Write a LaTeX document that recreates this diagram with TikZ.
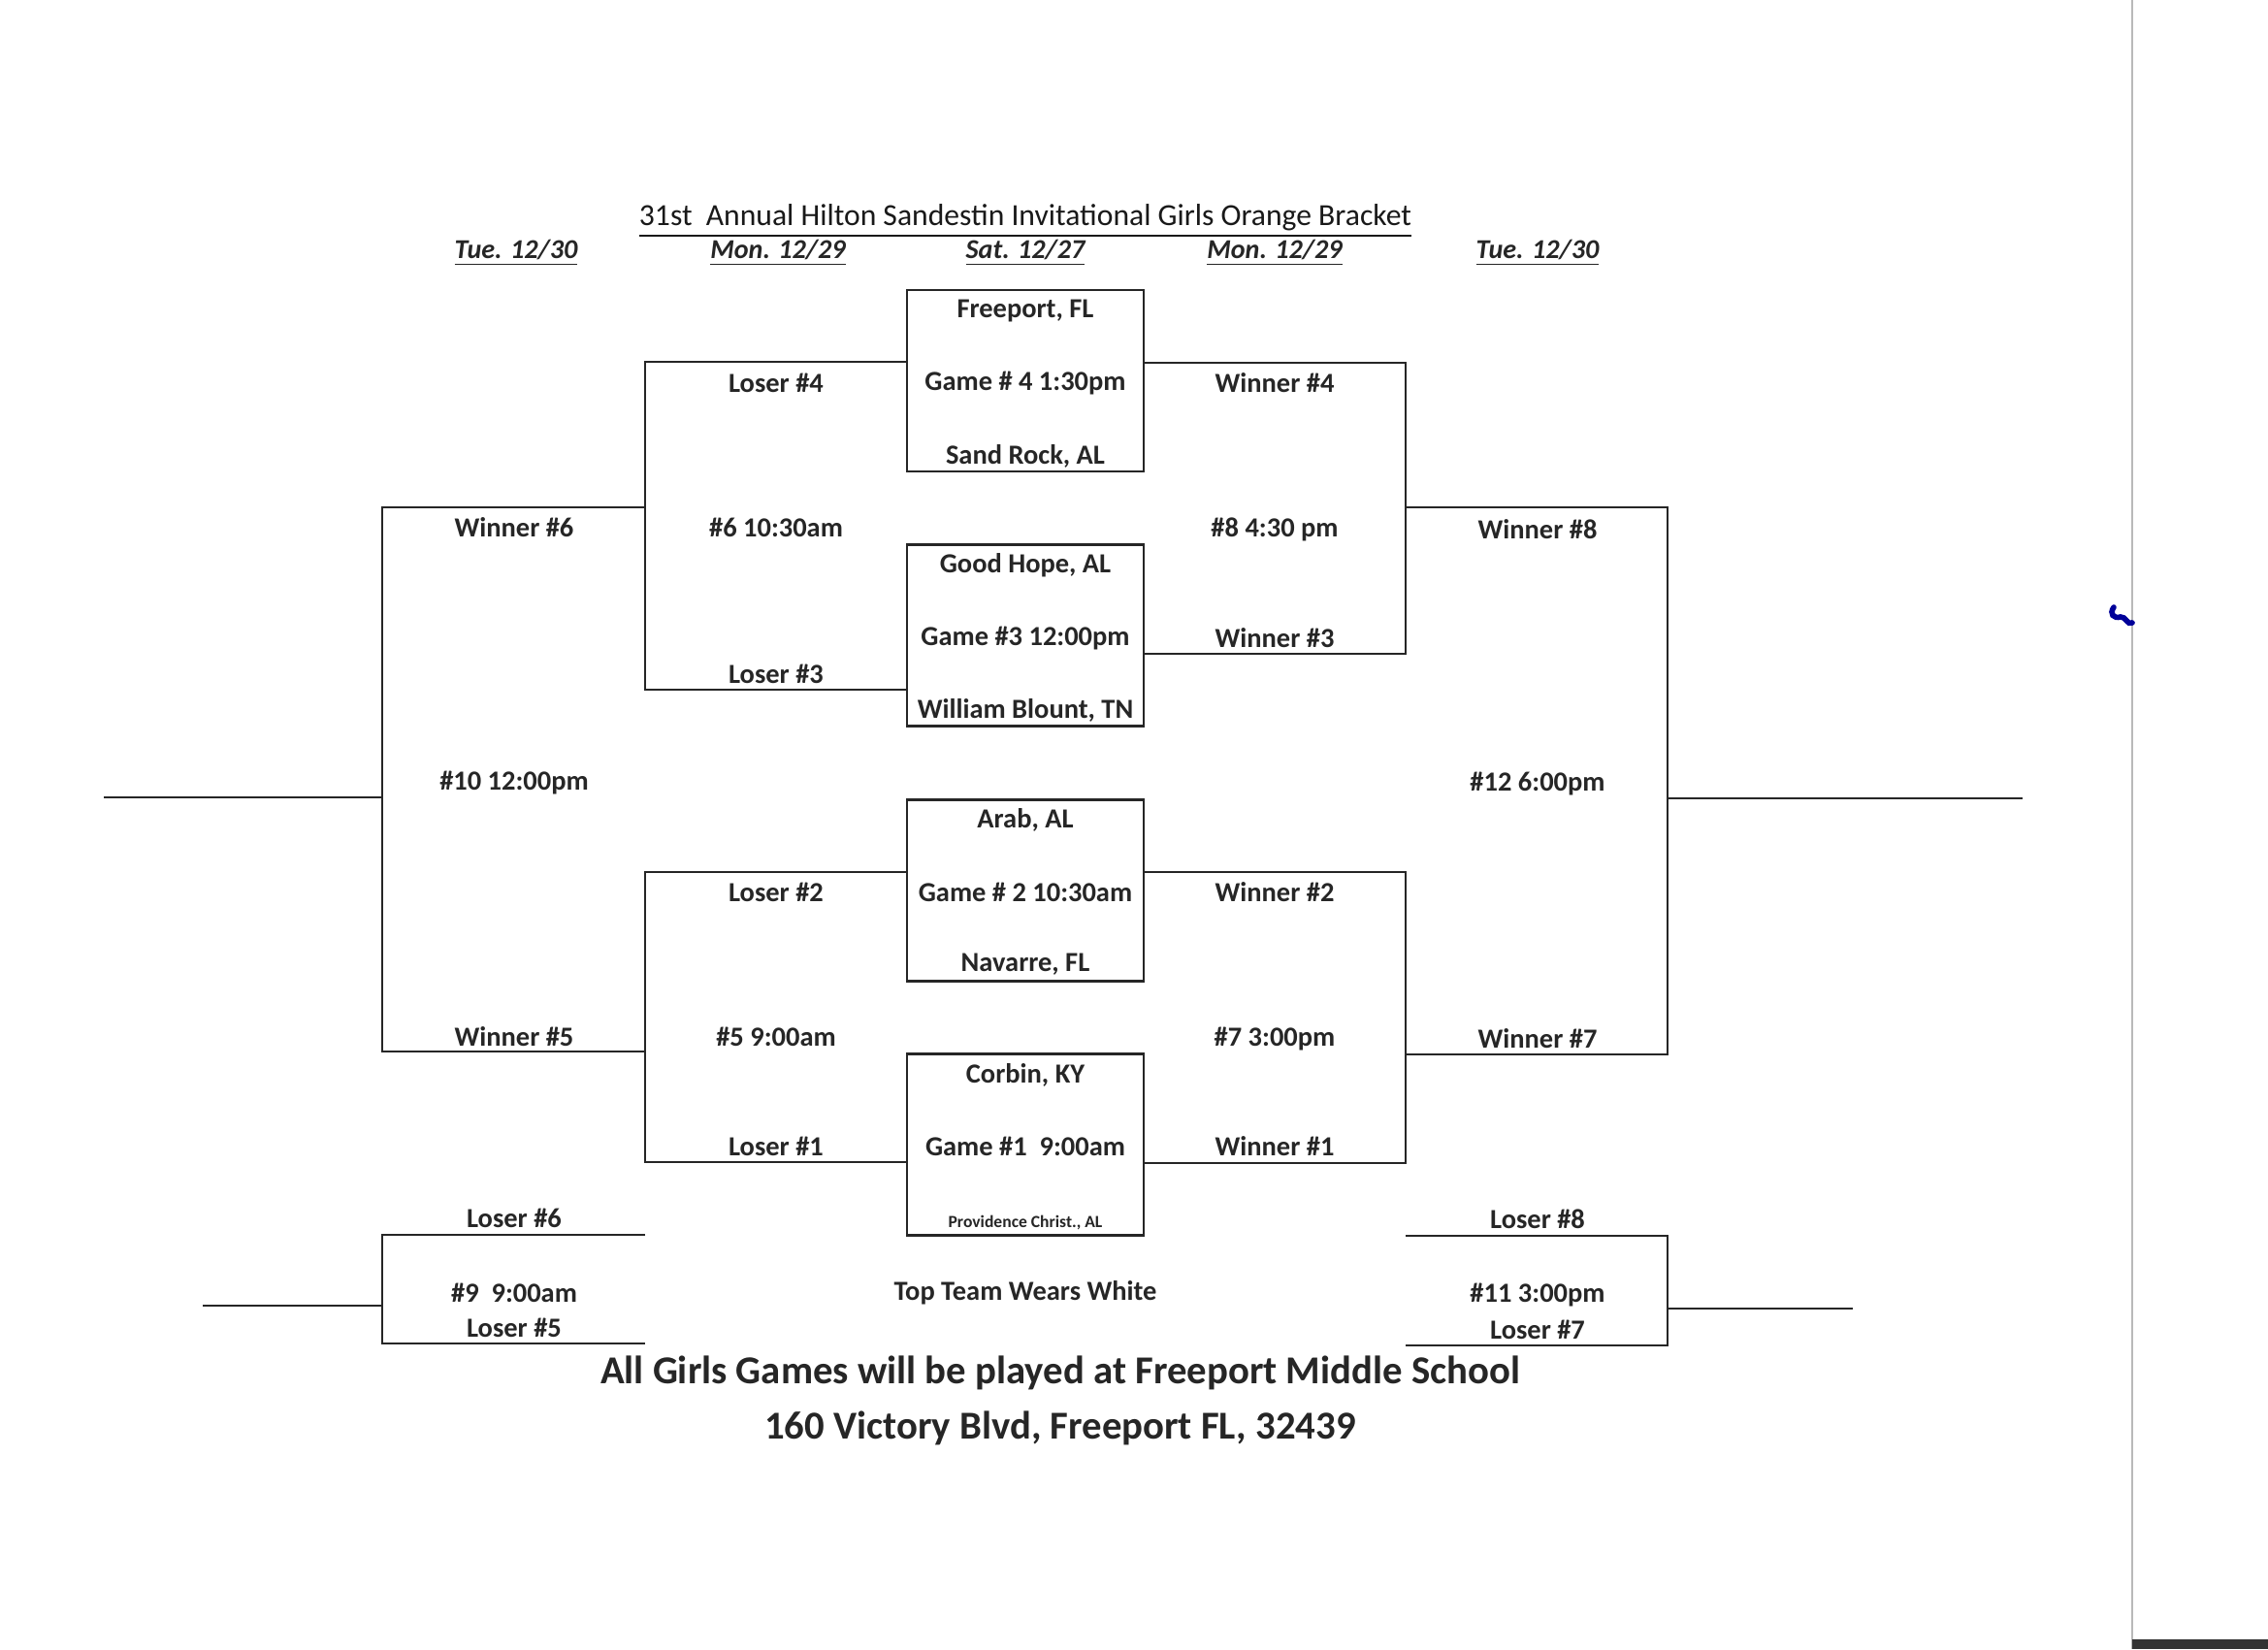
\documentclass[tikz,border=0pt]{standalone}
\usepackage{fontspec}
\setmainfont{Carlito}
\usepackage{tikz}
\usetikzlibrary{positioning,calc}

\begin{document}
\begin{tikzpicture}[
    wire/.style={draw=black!85, line width=0.6pt},
    game/.style={draw=black!85, line width=0.6pt, minimum width=2.44cm, minimum height=1.87cm, inner sep=0pt},
    lbl/.style={font=\fontsize{8.1}{10}\selectfont\bfseries, text=black!85, inner sep=0pt},
    day/.style={font=\fontsize{8}{10}\selectfont\bfseries\itshape, text=black!85, inner sep=0pt},
    foot/.style={font=\fontsize{11.6}{14}\selectfont\bfseries, text=black!85, inner sep=0pt}]

    \path[use as bounding box, fill=white] (0,0) rectangle (23.38,-17);

    % --- HEADER ---
    \node[font=\fontsize{9}{11}\selectfont, text=black!90, inner sep=0pt] (title) at (10.57,-2.28)
        {\underline{31st\ \ Annual Hilton Sandestin Invitational Girls Orange Bracket}};
    \node[day] (d1) at (5.32,-2.61) {\underline{Tue. 12/30}};
    \node[day] (d2) at (8.02,-2.61) {\underline{Mon. 12/29}};
    \node[day] (d3) at (10.57,-2.61) {\underline{Sat. 12/27}};
    \node[day] (d4) at (13.14,-2.61) {\underline{Mon. 12/29}};
    \node[day] (d5) at (15.85,-2.61) {\underline{Tue. 12/30}};

    % --- FIRST ROUND (Sat.) ---
    \node[game] (g4) at (10.57,-3.925) {};
    \node[lbl] (g4a) at (10.57,-3.21) {Freeport, FL};
    \node[lbl] (g4b) at (10.57,-3.95) {Game \# 4 1:30pm};
    \node[lbl] (g4c) at (10.57,-4.70) {Sand Rock, AL};

    \node[game] (g3) at (10.57,-6.55) {};
    \node[lbl] (g3a) at (10.57,-5.83) {Good Hope, AL};
    \node[lbl] (g3b) at (10.57,-6.58) {Game \#3 12:00pm};
    \node[lbl] (g3c) at (10.57,-7.32) {William Blount, TN};

    \node[game] (g2) at (10.57,-9.18) {};
    \node[lbl] (g2a) at (10.57,-8.45) {Arab, AL};
    \node[lbl] (g2b) at (10.57,-9.20) {Game \# 2 10:30am};
    \node[lbl] (g2c) at (10.57,-9.94) {Navarre, FL};

    \node[game] (g1) at (10.57,-11.80) {};
    \node[lbl] (g1a) at (10.57,-11.08) {Corbin, KY};
    \node[lbl] (g1b) at (10.57,-11.82) {Game \#1\ \ 9:00am};
    \node[lbl, font=\fontsize{5}{6}\selectfont\bfseries] (g1c) at (10.57,-12.61) {Providence Christ., AL};

    \node[lbl] (white) at (10.57,-13.33) {Top Team Wears White};

    % --- LOSERS SIDE (left) ---
    \coordinate (l4) at (6.65,-3.73);
    \coordinate (l3) at (6.65,-7.11);
    \coordinate (l2) at (6.65,-8.99);
    \coordinate (l1) at (6.65,-11.98);
    \draw[wire] (g4.west |- l4) -- (l4) -- (l3) -- (g3.west |- l3);
    \draw[wire] (g2.west |- l2) -- (l2) -- (l1) -- (g1.west |- l1);

    \node[lbl] (n6a) at (8.00,-3.95) {Loser \#4};
    \node[lbl] (n6b) at (8.00,-5.44) {\#6 10:30am};
    \node[lbl] (n6c) at (8.00,-6.95) {Loser \#3};
    \node[lbl] (n5a) at (8.00,-9.20) {Loser \#2};
    \node[lbl] (n5b) at (8.00,-10.69) {\#5 9:00am};
    \node[lbl] (n5c) at (8.00,-11.82) {Loser \#1};

    \coordinate (w6) at (3.94,-5.23);
    \coordinate (w5) at (3.94,-10.84);
    \coordinate (o10) at (1.07,-8.22);
    \draw[wire] (l4 |- w6) -- (w6) -- (w5) -- (l1 |- w5);
    \draw[wire] (o10) -- (w6 |- o10);

    \node[lbl] (n10a) at (5.30,-5.44) {Winner \#6};
    \node[lbl] (n10b) at (5.30,-8.07) {\#10 12:00pm};
    \node[lbl] (n10c) at (5.30,-10.69) {Winner \#5};

    % consolation #9
    \coordinate (c6) at (6.65,-12.73);
    \coordinate (c5) at (6.65,-13.85);
    \coordinate (o9) at (2.09,-13.46);
    \draw[wire] (c6) -- (w6 |- c6) -- (w6 |- c5) -- (c5);
    \draw[wire] (o9) -- (w6 |- o9);

    \node[lbl] (n9a) at (5.30,-12.56) {Loser \#6};
    \node[lbl] (n9b) at (5.30,-13.33) {\#9\ \ 9:00am};
    \node[lbl] (n9c) at (5.30,-13.69) {Loser \#5};

    % --- WINNERS SIDE (right) ---
    \coordinate (r4) at (14.49,-3.74);
    \coordinate (r3) at (14.49,-6.74);
    \coordinate (r2) at (14.49,-8.99);
    \coordinate (r1) at (14.49,-11.99);
    \draw[wire] (g4.east |- r4) -- (r4) -- (r3) -- (g3.east |- r3);
    \draw[wire] (g2.east |- r2) -- (r2) -- (r1) -- (g1.east |- r1);

    \node[lbl] (n8a) at (13.14,-3.95) {Winner \#4};
    \node[lbl] (n8b) at (13.14,-5.46) {\#8 4:30 pm};
    \node[lbl] (n8c) at (13.14,-6.58) {Winner \#3};
    \node[lbl] (n7a) at (13.14,-9.20) {Winner \#2};
    \node[lbl] (n7b) at (13.14,-10.71) {\#7 3:00pm};
    \node[lbl] (n7c) at (13.14,-11.82) {Winner \#1};

    \coordinate (w8) at (17.19,-5.23);
    \coordinate (w7) at (17.19,-10.87);
    \coordinate (o12) at (20.85,-8.23);
    \draw[wire] (r4 |- w8) -- (w8) -- (w7) -- (r1 |- w7);
    \draw[wire] (w8 |- o12) -- (o12);

    \node[lbl] (n12a) at (15.85,-5.46) {Winner \#8};
    \node[lbl] (n12b) at (15.85,-8.08) {\#12 6:00pm};
    \node[lbl] (n12c) at (15.85,-10.71) {Winner \#7};

    % consolation #11
    \coordinate (c8) at (14.49,-12.74);
    \coordinate (c7) at (14.49,-13.87);
    \coordinate (o11) at (19.10,-13.49);
    \draw[wire] (c8) -- (w8 |- c8) -- (w8 |- c7) -- (c7);
    \draw[wire] (w8 |- o11) -- (o11);

    \node[lbl] (n11a) at (15.85,-12.57) {Loser \#8};
    \node[lbl] (n11b) at (15.85,-13.35) {\#11 3:00pm};
    \node[lbl] (n11c) at (15.85,-13.71) {Loser \#7};

    % --- FOOTER ---
    \node[foot] (venue) at (10.93,-14.15) {All Girls Games will be played at Freeport Middle School};
    \node[foot] (addr) at (10.93,-14.72) {160 Victory Blvd, Freeport FL, 32439};

    % page edge of the scan
    \draw[gray!55, line width=0.8pt] (21.98,0) -- (21.98,-17);
    \draw[blue!60!black, line width=1.6pt, line cap=round]
        (21.79,-6.26) .. controls (21.74,-6.33) and (21.79,-6.38) .. (21.86,-6.36)
        .. controls (21.91,-6.35) and (21.93,-6.45) .. (21.98,-6.42);
    \fill[black!80] (21.98,-16.90) rectangle (23.38,-17);

\end{tikzpicture}
\end{document}
